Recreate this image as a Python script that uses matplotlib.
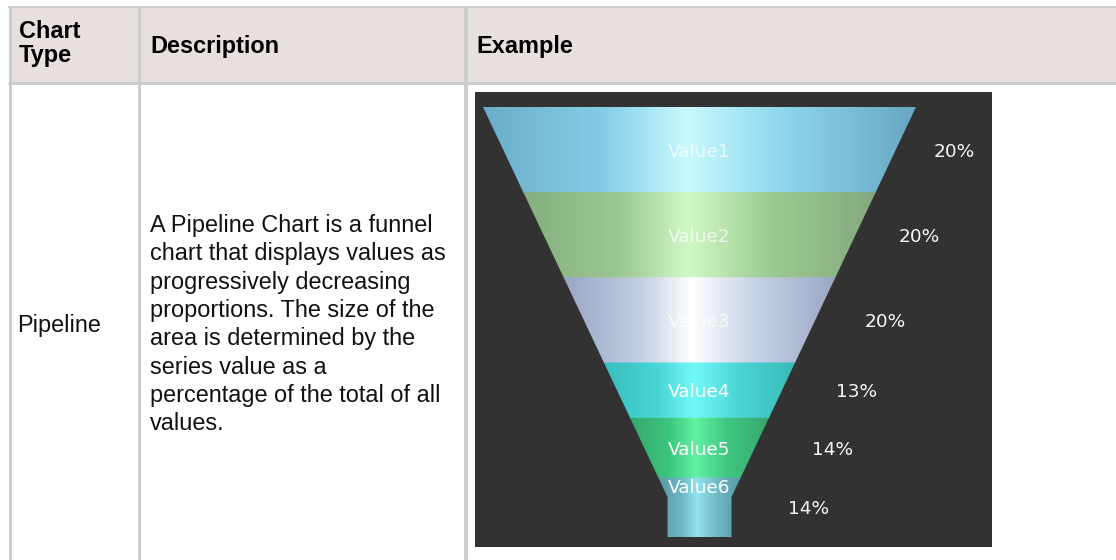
# Tabla "Chart Type / Description / Example" con un grafico de embudo (Pipeline)

import numpy as np
import matplotlib.pyplot as plt
from matplotlib.patches import Rectangle, Polygon
from matplotlib.colors import LinearSegmentedColormap

# datos
etapas = ['Value1', 'Value2', 'Value3', 'Value4', 'Value5', 'Value6']
valores = [20, 20, 20, 13, 14, 14]

encabezados = ['Chart\nType', 'Description', 'Example']
tipo = 'Pipeline'
descripcion = [
    'A Pipeline Chart is a funnel',
    'chart that displays values as',
    'progressively decreasing',
    'proportions. The size of the',
    'area is determined by the',
    'series value as a',
    'percentage of the total of all',
    'values.',
]

# colores de cada franja (borde izq, medio, brillo, medio, borde der)
colores = [
    ['#6AADC9', '#84CDE8', '#C8FAFC', '#8CD5EC', '#68A6C2'],
    ['#85AE7E', '#9CC894', '#D2F8C8', '#9CCA92', '#84A87E'],
    ['#98A7C4', '#C2CEE2', '#FFFFFF', '#C6D2E6', '#9AA7C4'],
    ['#38BEBC', '#48D6D4', '#72F8F8', '#4AD6D4', '#38BAB8'],
    ['#34A86C', '#3CC47C', '#62F2A2', '#40C680', '#36A66E'],
    ['#5896A2', '#6CB6C2', '#92E4EC', '#70BAC6', '#5896A2'],
]

W, H = 1116, 560
px = 0.72  # puntos por pixel a 100 dpi

fig = plt.figure(figsize=(W / 100, H / 100), dpi=100)

# --- tabla ---
tab = fig.add_axes([0, 0, 1, 1])
tab.set_xlim(0, W)
tab.set_ylim(H, 0)
tab.axis('off')

borde = '#CCCCCC'
tab.add_patch(Rectangle((9, 7), W - 9, 76, facecolor='#E8DFDF', lw=0))
tab.plot([8, W], [7, 7], color=borde, lw=2 * px, solid_capstyle='butt')
tab.plot([8, W], [82.5, 82.5], color=borde, lw=3 * px, solid_capstyle='butt')
for xc, ancho in [(9.5, 3), (138.5, 3), (465.5, 4)]:
    tab.plot([xc, xc], [6, H], color=borde, lw=ancho * px, solid_capstyle='butt')

fs = 23.5 * px
fuente = 'Liberation Sans'
tab.text(19, 38, 'Chart', fontsize=fs, fontweight='bold', family=fuente, va='baseline')
tab.text(19, 62, 'Type', fontsize=fs, fontweight='bold', family=fuente, va='baseline')
tab.text(150, 53, encabezados[1], fontsize=fs, fontweight='bold', family=fuente, va='baseline')
tab.text(476, 53, encabezados[2], fontsize=fs, fontweight='bold', family=fuente, va='baseline')

tab.text(17, 332, tipo, fontsize=fs, family=fuente, va='baseline', color='#111111')
for i, linea in enumerate(descripcion):
    tab.text(150, 232 + i * 28.3, linea, fontsize=fs, family=fuente,
             va='baseline', color='#111111')

# --- grafico de embudo ---
bx, by, bw, bh = 475, 92, 517, 455
ax = fig.add_axes([bx / W, (H - by - bh) / H, bw / W, bh / H])
ax.set_facecolor('#323232')
for s in ax.spines.values():
    s.set_visible(False)
ax.set_xticks([])
ax.set_yticks([])

arriba = 15          # inicio del embudo dentro del cuadro
alto = 430           # alto total del embudo
cx = 224.5           # centro horizontal
semi_sup = 216.5     # medio ancho arriba
semi_cuello = 32     # medio ancho del cuello
pendiente = 0.473
d_cuello = (semi_sup - semi_cuello) / pendiente


def semi(d):
    return max(semi_sup - pendiente * d, semi_cuello)


total = sum(valores)
limites = np.concatenate([[0], np.cumsum(valores)]) / total * alto

for i, (nombre, v) in enumerate(zip(etapas, valores)):
    d0, d1 = limites[i], limites[i + 1]
    d1c = d1 + (0.8 if i < len(valores) - 1 else 0)  # solapa para no dejar costura
    ds = [d0] + ([d_cuello] if d0 < d_cuello < d1c else []) + [d1c]
    izq = [(cx - semi(d), arriba + d) for d in ds]
    der = [(cx + semi(d), arriba + d) for d in ds[::-1]]
    poly = Polygon(izq + der, closed=True, facecolor='none', edgecolor='none')
    ax.add_patch(poly)

    cmap = LinearSegmentedColormap.from_list(
        'c%d' % i, list(zip([0, 0.28, 0.47, 0.7, 1], colores[i])))
    grad = cmap(np.linspace(0, 1, 256))[None, :, :]
    w = semi(d0) + 1
    im = ax.imshow(grad, extent=(cx - w, cx + w, arriba + d1c, arriba + d0),
                   aspect='auto', interpolation='bilinear', zorder=2 + i * 0.01)
    im.set_clip_path(poly)

    medio = (d0 + d1) / 2
    yv = arriba + min(medio + 2, d_cuello - 9)
    alfa = 0.7 if i < 3 else 1.0
    ax.text(cx, yv, nombre, ha='center', va='center', color='white', alpha=alfa,
            fontsize=18.5 * px, family='DejaVu Sans', zorder=3)

    pct = '%d%%' % round(v / total * 100)
    ax.text(475.7 - 0.406 * medio, arriba + medio + 2, pct, ha='left', va='center',
            color='#F6F6F6', fontsize=18.5 * px, family='DejaVu Sans', zorder=3)

ax.set_xlim(0, bw)
ax.set_ylim(bh, 0)

fig.savefig('out.png', dpi=100)
